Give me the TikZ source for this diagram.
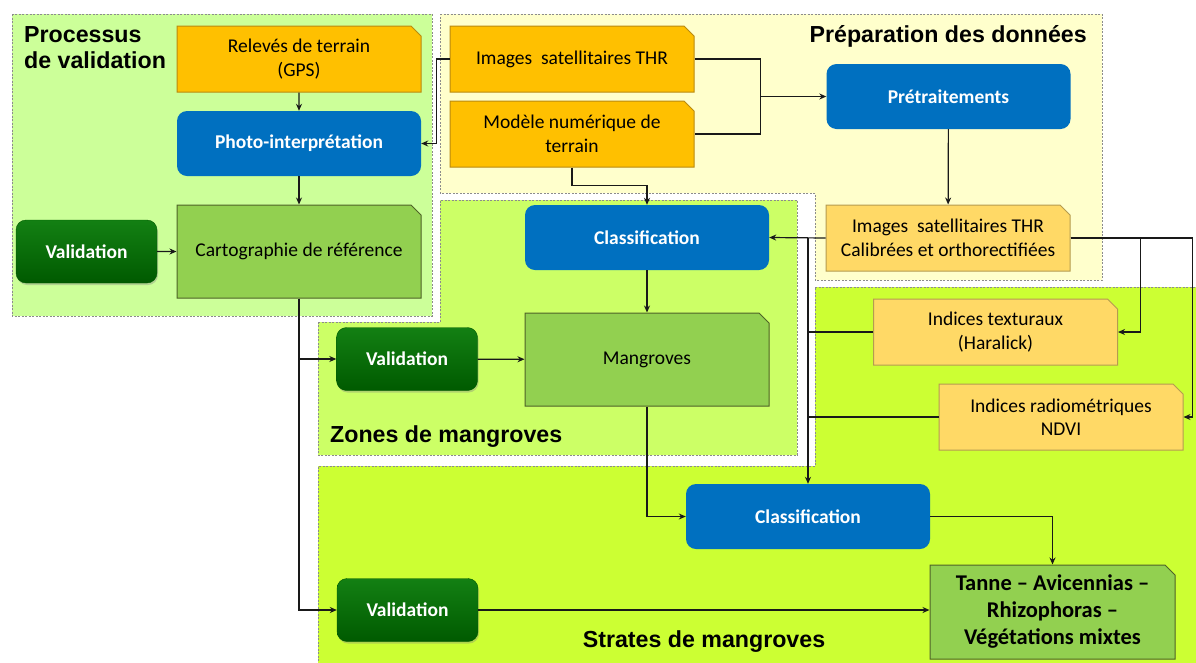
\documentclass[tikz,border=0pt]{standalone}
\usepackage{fontspec}
\setmainfont{Carlito}
\newfontfamily\titlefont{Liberation Sans}
\usetikzlibrary{arrows.meta,shapes.misc,shadows}
\definecolor{mgvalid}{HTML}{CCFF99}
\definecolor{mgprep}{HTML}{FFFFCC}
\definecolor{mgzone}{HTML}{CCFF66}
\definecolor{mgstrat}{HTML}{CCFF33}
\definecolor{mgorange}{HTML}{FFC000}
\definecolor{mgorangeline}{HTML}{B98A10}
\definecolor{mgsand}{HTML}{FFD966}
\definecolor{mgsandline}{HTML}{B59B50}
\definecolor{mgblue}{HTML}{0070C0}
\definecolor{mgleaf}{HTML}{92D050}
\definecolor{mgleafline}{HTML}{4F6228}
\definecolor{mgdarktop}{HTML}{138013}
\definecolor{mgdarkbot}{HTML}{005A00}
\definecolor{mgdashed}{HTML}{8C8C8C}

\begin{document}
\begin{tikzpicture}[x=1pt,y=-1pt,
  panel/.style={draw=mgdashed,line width=0.9pt,dash pattern=on 2pt off 1.5pt},
  ttl/.style={font=\titlefont\bfseries\fontsize{23.2}{26.5}\selectfont,inner sep=0pt,align=left},
  snip/.style={chamfered rectangle,chamfered rectangle corners=north east,
    chamfered rectangle xsep=5pt,chamfered rectangle ysep=5pt,line width=1pt,
    align=center,font=\fontsize{19.5}{23.5}\selectfont,minimum width=244pt,minimum height=66pt,inner sep=2pt},
  srcbox/.style={snip,fill=mgorange,draw=mgorangeline},
  databox/.style={snip,fill=mgsand,draw=mgsandline},
  mapbox/.style={snip,fill=mgleaf,draw=mgleafline,minimum height=93pt},
  procbox/.style={rounded corners=10pt,fill=mgblue,text=white,align=center,
    font=\bfseries\fontsize{19.5}{23.5}\selectfont,minimum width=244pt,minimum height=65pt},
  valbox/.style={rounded corners=10pt,top color=mgdarktop,bottom color=mgdarkbot,draw=mgdarkbot,
    text=white,font=\bfseries\fontsize{19.5}{23.5}\selectfont,minimum width=141pt,minimum height=63pt,
    drop shadow={opacity=0.35,shadow xshift=1pt,shadow yshift=-2pt}},
  arr/.style={-{Stealth[length=7pt,width=6pt]},line width=1.2pt,color=black!90}]
\useasboundingbox (0,0) rectangle (1196,662);

% panels
\draw[panel,fill=mgvalid] (12,14) rectangle (432,316);
\draw[panel,fill=mgprep] (440,14) -- (1102,14) -- (1102,280) -- (815,280) -- (815,193) -- (440,193) -- cycle;
\draw[panel,fill=mgzone] (318,322) -- (440,322) -- (440,200) -- (797,200) -- (797,455) -- (318,455) -- cycle;
\draw[panel,fill=mgstrat] (815,287) -- (1202,287) -- (1202,668) -- (318,668) -- (318,466) -- (815,466) -- cycle;

\node[ttl,anchor=north west] (tvalid) at (24,26) {Processus\\de validation};
\node[ttl,anchor=base east] (tprep) at (1087,42) {Préparation des données};
\node[ttl,anchor=base west] (tzone) at (330,442) {Zones de mangroves};
\node[ttl,anchor=base] (tstrat) at (704,647) {Strates de mangroves};

% validation branch
\node[srcbox] (releve) at (299,59) {Relevés de terrain\\(GPS)};
\node[procbox] (photo) at (299,143.5) {Photo-interprétation};
\node[mapbox] (carto) at (299,251.5) {Cartographie de référence};
\node[valbox] (val1) at (86.5,251.5) {Validation};

% data preparation
\node[srcbox] (imgthr) at (572,59) {Images\ \ satellitaires THR};
\node[srcbox] (mnt) at (572,134) {Modèle numérique de\\terrain};
\node[procbox] (pretr) at (948.5,96.5) {Prétraitements};
\node[databox] (calib) at (948,238) {Images\ \ satellitaires THR\\Calibrées et orthorectifiées};

% mangrove zones
\node[procbox] (cls1) at (647,237.5) {Classification};
\node[mapbox] (mang) at (647,359.5) {Mangroves};
\node[valbox] (val2) at (407,359) {Validation};

% mangrove strata
\node[databox] (tex) at (995.5,332) {Indices texturaux\\(Haralick)};
\node[databox] (rad) at (1061,417) {Indices radiométriques\\NDVI};
\node[procbox] (cls2) at (808,516.5) {Classification};
\node[valbox] (val3) at (407.5,610) {Validation};
\node[mapbox,minimum width=245pt,minimum height=94pt,font=\bfseries\fontsize{22.5}{27}\selectfont] (tanne) at (1052.5,612) {Tanne -- Avicennias --\\Rhizophoras --\\Végétations mixtes};

% connectors
\draw[arr] (releve) -- (photo);
\draw[arr] (photo) -- (carto);
\draw[arr] (val1) -- (carto);
\draw[arr] (imgthr.west) -- ++(-13,0) |- (photo.east);
\path (pretr.west) ++(-66,0) coordinate (join);
\draw[arr,-] (imgthr.east) -| (join) |- (mnt.east);
\draw[arr] (join) -- (pretr.west);
\draw[arr] (mnt.south) -- ++(0,18) -| (cls1.north);
\draw[arr] (pretr) -- (calib);
\draw[arr] (calib.west) -- (cls1.east);
\coordinate (bus) at (cls2.north |- calib.west);
\draw[arr] (bus) -- (cls2.north);
\draw[arr,-] (tex.west) -- (tex.west -| bus);
\draw[arr,-] (rad.west) -- (rad.west -| bus);
\draw[arr] (calib.east) -- ++(70,0) |- (tex.east);
\draw[arr] (calib.east) -- ++(122,0) |- (rad.east);
\draw[arr] (carto.south) |- (val2.west);
\draw[arr] (carto.south) |- (val3.west);
\draw[arr] (val2) -- (mang);
\draw[arr] (cls1) -- (mang);
\draw[arr] (mang.south) |- (cls2.west);
\draw[arr] (cls2.east) -| (tanne.north);
\draw[arr] (val3.east) -- (val3.east -| tanne.west);
\end{tikzpicture}
\end{document}
